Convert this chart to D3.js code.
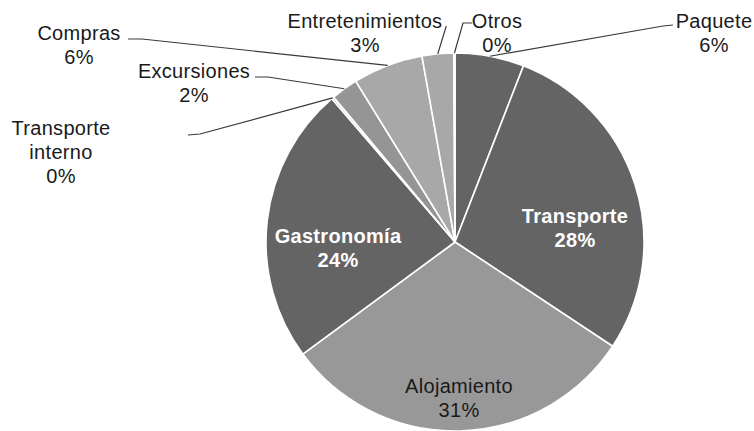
<!DOCTYPE html>
<html>
<head>
<meta charset="utf-8">
<script src="https://cdn.jsdelivr.net/npm/d3@7"></script>
<style>
  body { margin: 0; background: #fff; }
  text { font-family: "Liberation Sans", Arial, sans-serif; }
</style>
</head>
<body>
<div id="chart"></div>
<script>
// data, clockwise from 12 o'clock
const categories = ['Paquete', 'Transporte', 'Alojamiento', 'Gastronomía', 'Transporte interno',
    'Excursiones', 'Compras', 'Entretenimientos', 'Otros'];
const shares = [5.9, 28.4, 30.6, 23.8, 0.2, 2.3, 6.0, 2.7, 0.1];

const W = 754, H = 431;
const cx = 455, cy = 242, R = 189;

const fills = ['#646464', '#646464', '#989898', '#646464', '#cfcfcf', '#959595', '#a8a8a8', '#a8a8a8', '#cfcfcf'];

// label layout: x, y of first baseline, inside?, line points near the label
const layout = {
    'Paquete': { x: 714, y: 28, lead: [[673, 25], [663, 26]] },
    'Transporte': { x: 575, y: 223, inside: true, white: true },
    'Alojamiento': { x: 459, y: 393, inside: true },
    'Gastronomía': { x: 338, y: 243, inside: true, white: true },
    'Transporte interno': { x: 61, y: 135, lines: ['Transporte', 'interno'], lead: [[188, 135], [200, 134]] },
    'Excursiones': { x: 194, y: 78, lead: [[255, 77], [268, 77]] },
    'Compras': { x: 79, y: 40, lead: [[128, 39], [142, 39]] },
    'Entretenimientos': { x: 365, y: 28, lead: [[446, 26], [446, 27]] },
    'Otros': { x: 497, y: 28, lead: [[472, 23], [463, 23]] }
};

const rows = categories.map(function (c, i) {
    return { name: c, value: shares[i], color: fills[i] };
});

const svg = d3.select('#chart').append('svg')
    .attr('width', W)
    .attr('height', H);

const g = svg.append('g').attr('transform', 'translate(' + cx + ',' + cy + ')');

const pie = d3.pie().sort(null).value(function (d) { return d.value; });
const arc = d3.arc().innerRadius(0).outerRadius(R);
const arcs = pie(rows);

g.selectAll('path.slice').data(arcs).enter().append('path')
    .attr('class', 'slice')
    .attr('d', arc)
    .attr('fill', function (d) { return d.data.color; })
    .attr('stroke', '#fff')
    .attr('stroke-width', 1.6);

// leader lines
const edge = function (d) {
    const a = (d.startAngle + d.endAngle) / 2;
    return [cx + R * Math.sin(a), cy - R * Math.cos(a)];
};
const line = d3.line();
svg.selectAll('path.lead').data(arcs.filter(function (d) { return !layout[d.data.name].inside; }))
    .enter().append('path')
    .attr('class', 'lead')
    .attr('fill', 'none')
    .attr('stroke', '#3a3a3a')
    .attr('stroke-width', 1.2)
    .attr('d', function (d) {
        const l = layout[d.data.name].lead;
        return line([l[0], l[1], edge(d)]);
    });

// labels
const lab = svg.selectAll('text.lab').data(arcs).enter().append('text')
    .attr('class', 'lab')
    .attr('text-anchor', 'middle')
    .attr('font-size', 20)
    .attr('letter-spacing', 0.3)
    .attr('font-weight', function (d) { return layout[d.data.name].white ? 'bold' : 'normal'; })
    .attr('fill', function (d) { return layout[d.data.name].white ? '#fff' : '#1a1a1a'; });

lab.each(function (d) {
    const o = layout[d.data.name];
    const parts = (o.lines || [d.data.name]).concat([Math.round(d.data.value) + '%']);
    const t = d3.select(this);
    parts.forEach(function (p, i) {
        t.append('tspan')
            .attr('x', o.x)
            .attr('y', o.y + i * 24)
            .text(p);
    });
});
</script>
</body>
</html>
